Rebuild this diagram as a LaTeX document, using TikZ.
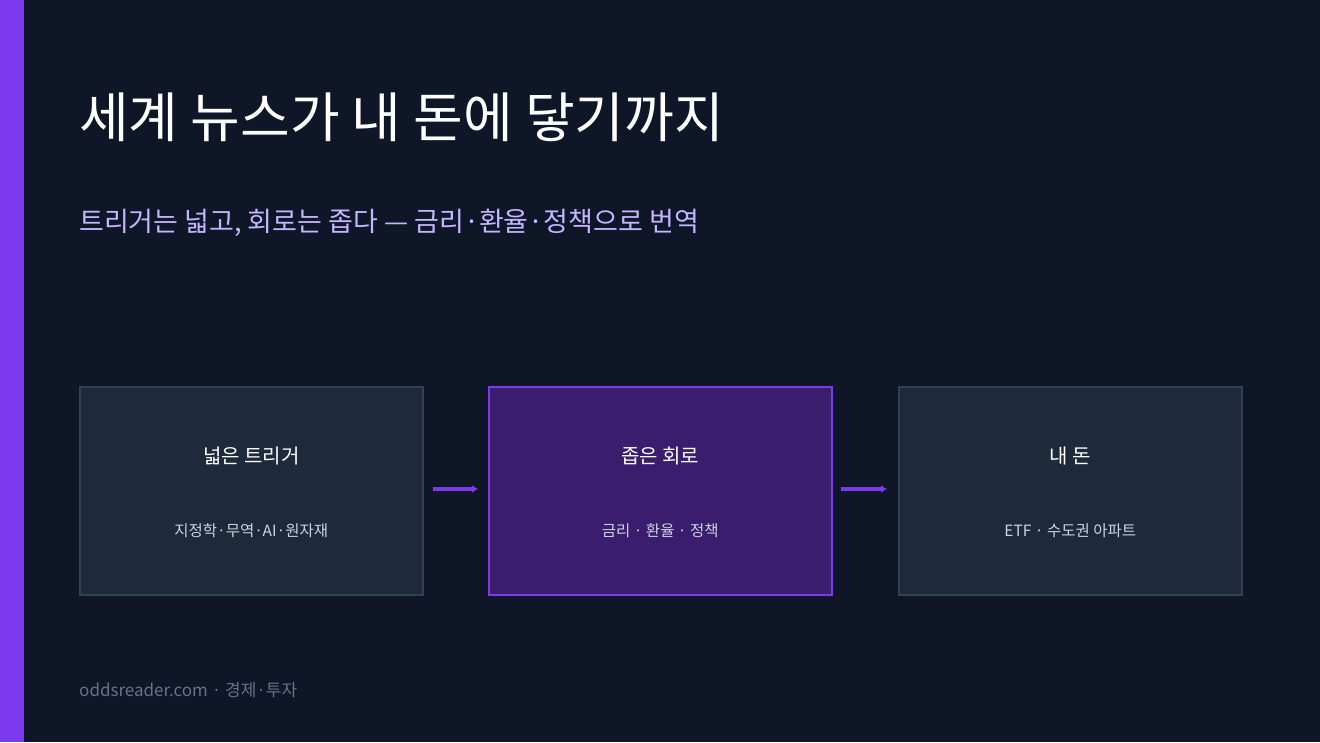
\documentclass[tikz,border=0pt]{standalone}
\usepackage{fontspec}
\setmainfont{Noto Sans CJK KR}
\usetikzlibrary{positioning,arrows.meta}
\definecolor{bgdark}{HTML}{0E1628}
\definecolor{barpurple}{HTML}{7C3AED}
\definecolor{boxfill}{HTML}{1E293B}
\definecolor{boxline}{HTML}{334155}
\definecolor{midfill}{HTML}{3B1D6E}
\definecolor{subtxt}{HTML}{C4B5FD}
\definecolor{smalltxt}{HTML}{CBD5E1}
\definecolor{foottxt}{HTML}{64748B}
\tikzset{
  stagebox/.style={draw=boxline,fill=boxfill,line width=1.5pt,minimum width=343pt,minimum height=208pt,anchor=north west},
  hotbox/.style={stagebox,draw=barpurple,fill=midfill},
  boxtitle/.style={text=white,font=\fontsize{20}{24}\selectfont},
  boxsub/.style={text=smalltxt,font=\fontsize{15.5}{19}\selectfont},
  arr/.style={draw=barpurple,line width=3.5pt,-{Latex[length=6pt,width=8pt]}}
}
\begin{document}
\begin{tikzpicture}[x=1pt,y=-1pt]
  \fill[bgdark] (0,0) rectangle (1320,742);
  \useasboundingbox (0,0) rectangle (1320,742);
  \fill[barpurple] (0,0) rectangle (24,742);
  \node[anchor=base west,text=white,font=\fontsize{54}{60}\selectfont,inner sep=0] (title) at (79,137) {세계 뉴스가 내 돈에 닿기까지};
  \node[anchor=base west,text=subtxt,font=\fontsize{27}{32}\selectfont,inner sep=0] (subtitle) at (79,231) {트리거는 넓고, 회로는 좁다 — 금리·환율·정책으로 번역};

  \node[stagebox] (trigger) at (79,386) {};
  \node[hotbox] (circuit) at (488,386) {};
  \node[stagebox] (money) at (898,386) {};
  \foreach \Box/\Head/\Sub in {trigger/넓은 트리거/지정학·무역·AI·원자재,circuit/좁은 회로/금리 · 환율 · 정책,money/내 돈/ETF · 수도권 아파트} {
    \node[boxtitle] at ([yshift=-70pt]\Box.north) {\Head};
    \node[boxsub] at ([yshift=-145pt]\Box.north) {\Sub};
  }
  \draw[arr] ([xshift=9pt,yshift=-103pt]trigger.north east) -- ([xshift=-10pt,yshift=-103pt]circuit.north west);
  \draw[arr] ([xshift=8pt,yshift=-103pt]circuit.north east) -- ([xshift=-11pt,yshift=-103pt]money.north west);

  \node[anchor=base west,text=foottxt,font=\fontsize{17}{20}\selectfont,inner sep=0] (footer) at (79,696) {oddsreader.com · 경제·투자};
\end{tikzpicture}
\end{document}
